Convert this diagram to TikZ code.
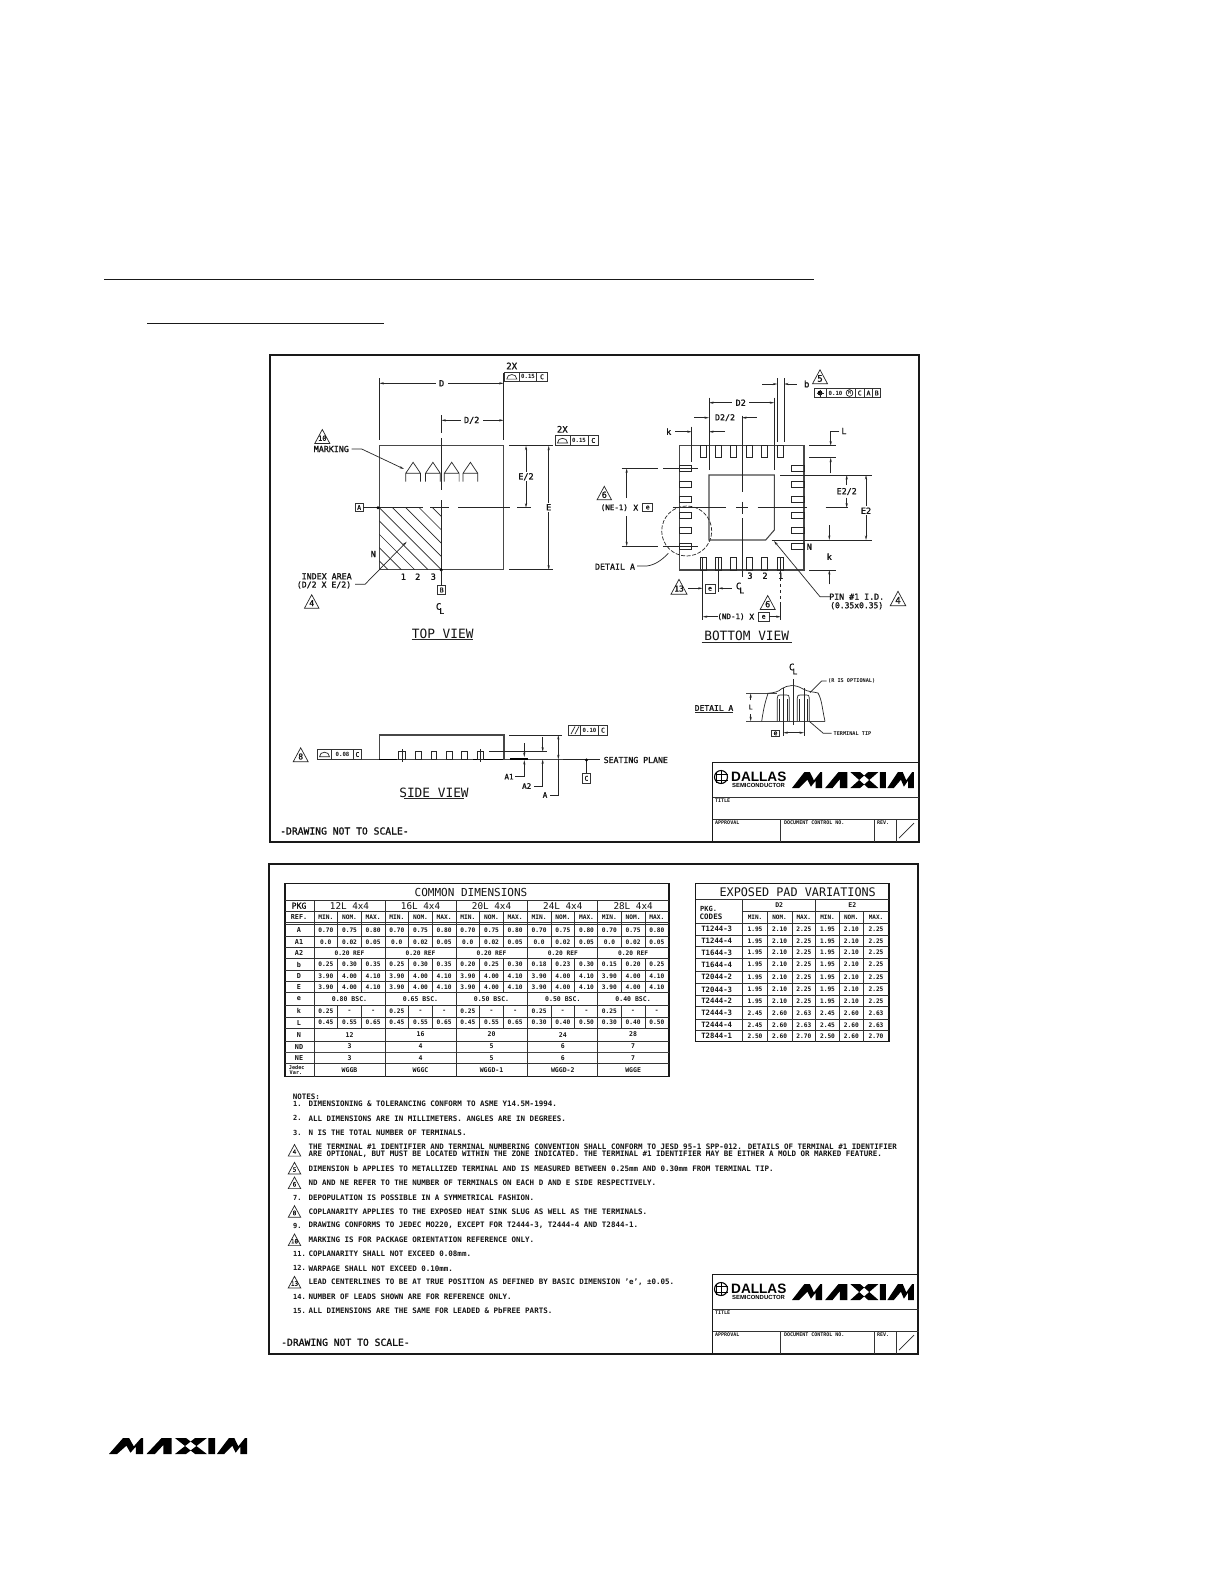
\documentclass[tikz,border=0pt]{standalone}
\usepackage{fontspec}
\setmainfont{DejaVu Sans Mono}
\newfontfamily\medf[FakeBold=1.3]{DejaVu Sans Mono}
\newfontfamily\logofont{Liberation Sans}
\usetikzlibrary{arrows.meta}
\newcounter{tn}
\tikzset{
  >={Stealth[length=4.5pt,width=2.2pt]},
  txt/.style={inner sep=0pt,text=black!92},
  gapt/.style={inner ysep=1.2pt,inner xsep=3.5pt,fill=white,text=black!92},
  pk/.style={draw=black!72,line width=1.1pt},
  ln/.style={draw=black!85,line width=.7pt},
  tb/.style={draw=black!80,line width=.9pt},
  frm/.style={draw=black!90,line width=1.4pt},
  heavy/.style={draw=black,line width=1.6pt}
}
% text: [anchor]{x}{y}{size}{text}
\newcommand\Tx[5][center]{\stepcounter{tn}\node[txt,anchor=#1,font=\fontsize{#4}{#4}\medf] (t\arabic{tn}) at ({#2},{#3}) {#5};}
\newcommand\Lg[5][center]{\stepcounter{tn}\node[txt,anchor=#1,font=\fontsize{#4}{#4}\selectfont] (t\arabic{tn}) at ({#2},{#3}) {#5};}
\newcommand\Bx[5][center]{\stepcounter{tn}\node[txt,anchor=#1,font=\fontsize{#4}{#4}\selectfont\bfseries] (t\arabic{tn}) at ({#2},{#3}) {#5};}
\newcommand\Wx[4]{\stepcounter{tn}\node[gapt,font=\fontsize{#3}{#3}\medf] (t\arabic{tn}) at ({#1},{#2}) {#4};}
% triangle: {cx}{cy}{w}{labelsize}{label}
\newcommand\Tri[5]{\draw[ln] ({#1-#3/2},{#2+#3*.45}) -- (#1,{#2-#3*.48}) -- ({#1+#3/2},{#2+#3*.45}) -- cycle; \Tx{#1}{#2+#3*.1}{#4}{#5}}
% feature frame box
\newcommand\FBx[5]{\draw[tb] (#1,#2) rectangle (#3,#4); \Tx{(#1+#3)/2}{(#2+#4)/2}{6.5}{#5}}
\newcommand\FlatS[2]{\draw[ln] (#1-5,#2+2.5) .. controls (#1-5,#2-3.6) and (#1+5,#2-3.6) .. (#1+5,#2+2.5) -- cycle;}
\newcommand\CLn[2]{\Tx{#1}{#2}{9}{C}\Tx{#1+3.2}{#2+4.5}{8}{L}}
\newcommand\caA[1]{\draw[ln] (#1,481.7) -- (#1,473.3) -- (#1+7.4,462.3) -- (#1+14.8,473.3) -- (#1+14.8,481.7) (#1,473.3) -- (#1+14.8,473.3);}
% Maxim logo {x}{y}{xscale}{yscale}
\newcommand\maximlogo[4]{\begin{scope}[shift={(#1,#2)},x=#3pt,y=-#4pt]
\fill[black] (0,50)--(42,0)--(60,0)--(74,26)--(96,0)--(102,0)--(102,50)--(80,50)--(80,27)--(64,46)--(52,24)--(24,50)--cycle
 (112,50)--(157,0)--(187,0)--(187,50)--(162,50)--(162,22)--(137,50)--cycle
 (197,0)--(230,0)--(292,50)--(257,50)--cycle (197,50)--(230,50)--(292,0)--(257,0)--cycle
 (297,0)--(317,0)--(317,50)--(297,50)--cycle
 (322,50)--(358,0)--(374,0)--(386,26)--(406,0)--(412,0)--(412,50)--(392,50)--(392,27)--(378,46)--(368,24)--(344,50)--cycle;
\end{scope}}
\newcommand\titleblock{%
\draw[frm] (712.7,842) -- (712.7,762.7) -- (919,762.7);
\draw[tb] (712.7,797.7) -- (919,797.7) (712.7,819) -- (919,819) (780,819) -- (780,842) (874,819) -- (874,842) (896,819) -- (896,842);
\draw[ln] (899,838) -- (914,823);
\draw[black,line width=1.1pt] (721,777) circle[radius=6.5pt];
\draw[black,line width=.8pt] (721,770.5) -- (721,783.5) (716,771.5) -- (716,782.5) (716,774) -- (727.5,774) (716,780) -- (727.5,780);
\stepcounter{tn}\node[txt,anchor=west,font=\fontsize{13.6}{13.6}\logofont\bfseries,text=black] (t\arabic{tn}) at (731,776.5) {DALLAS};
\stepcounter{tn}\node[txt,anchor=west,font=\fontsize{5.9}{5.9}\logofont\bfseries,text=black] (t\arabic{tn}) at (732,785.3) {SEMICONDUCTOR};
\maximlogo{792}{772}{.296}{.32}
\Bx[west]{715}{801}{5}{TITLE}
\Bx[west]{715}{823}{5}{APPROVAL}
\Bx[west]{784}{823}{5}{DOCUMENT CONTROL NO.}
\Bx[west]{877}{823}{5}{REV.}
}
% table helpers
\newcommand\Trip[5]{\Bx{#2+11.8}{#1}{6.2}{#3}\Bx{#2+35.5}{#1}{6.2}{#4}\Bx{#2+59.2}{#1}{6.2}{#5}}
\newcommand\AllG[4]{\foreach \g in {314,385,456,527.3,597.6} {\Trip{#1}{\g}{#2}{#3}{#4}}}
\newcommand\PadR[5]{\Bx{716.7}{#1}{7.3}{#2}\Bx{755}{#1}{6.2}{#3}\Bx{779.6}{#1}{6.2}{#4}\Bx{803.8}{#1}{6.2}{#5}\Bx{827.5}{#1}{6.2}{#3}\Bx{851.3}{#1}{6.2}{#4}\Bx{876}{#1}{6.2}{#5}}
\newcommand\Nt[3]{\Bx[west]{293}{#1}{7}{#2}\Bx[west]{308.3}{#1}{7.5}{#3}}
\newcommand\Nd[3]{\Tri{294.5}{#1}{12.5}{6}{#2}\Bx[west]{308.3}{#1}{7.5}{#3}}
\begin{document}
\begin{tikzpicture}[x=1pt,y=-1pt]
\useasboundingbox (0,0) rectangle (1225,1585);
\fill[white] (0,0) rectangle (1225,1585);
% page rules
\draw[black!90,line width=1.3pt] (104,279.3) -- (814,279.3);
\draw[black!90,line width=1.3pt] (147.3,323.3) -- (384,323.3);
\maximlogo{109}{1438}{.335}{.32}
% frames
\draw[frm] (270,355) rectangle (919,842);
\draw[frm] (269,864) rectangle (918,1354);
\titleblock
\begin{scope}[shift={(0,512)}]\titleblock\end{scope}
% ===== TOP VIEW =====
\draw[pk] (379.3,445.7) rectangle (503.7,569.7);
\begin{scope}
\clip (379.3,507.7) rectangle (441.3,569.7);
\foreach \k in {-4,...,4} \draw[ln] ({379.3+13.3*\k},507.7) -- ({441.3+13.3*\k},569.7);
\end{scope}
\draw[ln] (379.3,378) -- (379.3,440) (503.7,373) -- (503.7,440);
\draw[ln,<->] (379.3,383.3) -- (503.7,383.3);
\Wx{441.7}{383.3}{8.5}{D}
\Tx{511.7}{366}{9}{2X}
\draw[tb] (504.3,372.3) rectangle (547.3,381) (519.3,372.3) -- (519.3,381) (536.7,372.3) -- (536.7,381);
\FlatS{511.8}{376.6}\Bx{528}{376.8}{5.7}{0.15}\Tx{542}{376.8}{6.5}{C}
\draw[ln,<->] (441.3,420.3) -- (503.7,420.3);
\Wx{471.7}{420.3}{8.5}{D/2}
\draw[ln] (441.3,415) -- (441.3,433) (441.3,438) -- (441.3,490) (441.3,500) -- (441.3,569.7);
\draw[ln] (379.3,507.7) -- (423,507.7) (430,507.7) -- (449,507.7) (458,507.7) -- (510,507.7) (517,507.7) -- (531,507.7);
\caA{405.7}\caA{425.5}\caA{444.3}\caA{463}
\FBx{355}{503.3}{363.3}{511.7}{A}
\draw[ln] (363.3,507.7) -- (379.3,507.7);
\fill[black] (378,507.7) circle[radius=1.6pt] (441.3,570) circle[radius=1.6pt];
\FBx{437.7}{585.7}{445.7}{594.3}{B}
\draw[ln] (441.3,570) -- (441.3,585.7);
\CLn{438.6}{606.5}
\draw[ln,->] (355,584.3) -- (365,584.3) -- (379.3,569.7) -- (406.7,541.7);
\Tx{326.7}{576.3}{8.3}{INDEX AREA}
\Tx{324}{585}{8.2}{(D/2 X E/2)}
\Tri{311.7}{601.7}{14.5}{8}{4}
\Tx{373.3}{554}{8.5}{N}
\Tx{403.3}{576.7}{8.5}{1}\Tx{417.7}{576.7}{8.5}{2}\Tx{433.3}{576.7}{8.5}{3}
\Tri{322.3}{436.7}{15}{7}{10}
\Tx{331.3}{449}{8.3}{MARKING}
\draw[ln,->] (351.7,449) -- (361.7,449) -- (404,469);
\Lg{442.7}{633.5}{12.8}{TOP VIEW}
\draw[ln] (411.7,639.3) -- (473.3,639.3);
\draw[ln] (509.3,445.7) -- (553.3,445.7) (509.3,569.7) -- (553.3,569.7);
\draw[ln,<->] (526,445.7) -- (526,507.7);
\Wx{526}{476.7}{8.5}{E/2}
\draw[ln,<->] (548.7,445.7) -- (548.7,569.7);
\Wx{548.7}{507.3}{8.5}{E}
\Tx{562.3}{429.3}{9}{2X}
\draw[tb] (555,435.7) rectangle (598.3,445) (570,435.7) -- (570,445) (588.3,435.7) -- (588.3,445);
\FlatS{562.5}{440.4}\Bx{579}{440.5}{5.7}{0.15}\Tx{593.3}{440.5}{6.5}{C}
% ===== BOTTOM VIEW =====
\draw[pk] (679.3,445.7) rectangle (804,570);
\draw[pk] (709,475) -- (774.3,475) -- (774.3,530) -- (765.7,540) -- (709,540) -- cycle;
\foreach \x in {700,715.3,730.7,746,761.7,777.3} {\draw[ln] (\x,445.7) rectangle (\x+6,457.7) (\x,557.3) rectangle (\x+6,570);}
\foreach \y in {465.7,481,496.7,512.3,527.7,543.3} {\draw[ln] (679.3,\y) rectangle (691.7,\y+6) (791.7,\y) rectangle (804,\y+6);}
\draw[ln] (672.7,507.7) -- (726,507.7) (736,507.7) -- (748,507.7) (757.7,507.7) -- (806.7,507.7) (825.7,507.7) -- (848.3,507.7);
\draw[ln] (742,415.7) -- (742,491.7) (742,501.7) -- (742,513.7) (742,518.3) -- (742,576.7);
\draw[ln] (691.7,426.7) -- (691.7,461.7) (709,397.7) -- (709,470) (774.3,397.7) -- (774.3,470);
\draw[ln,<->] (709,402.7) -- (774.3,402.7);
\Wx{740.7}{402.7}{8.5}{D2}
\draw[ln,->] (694,417.7) -- (709,417.7);
\draw[ln,->] (756.7,417.7) -- (742,417.7);
\Tx{725}{417.7}{8.3}{D2/2}
\Tx{668.7}{431.7}{8.5}{k}
\draw[ln,->] (675,431.7) -- (691.7,431.7);
\draw[ln,->] (725,431.7) -- (709,431.7);
\draw[ln] (777.3,378.3) -- (777.3,441.7) (784,378.3) -- (784,441.7);
\draw[ln,->] (762.3,384) -- (777.3,384);
\draw[ln,->] (796.7,384) -- (784,384);
\Tx{806.7}{384}{9}{b}
\Tri{820}{377}{15}{9}{5}
\draw[tb] (814,388.3) rectangle (880.7,397.7) (826,388.3) -- (826,397.7) (855,388.3) -- (855,397.7) (864.3,388.3) -- (864.3,397.7) (872.7,388.3) -- (872.7,397.7);
\fill[black] (820,393) circle[radius=2.4pt];
\draw[ln] (816.5,393) -- (823.5,393) (820,389.5) -- (820,396.5);
\Bx{835.5}{393}{5.7}{0.10}
\draw[black,line width=.6pt] (849.5,393) circle[radius=3.4pt];
\Bx{849.5}{393}{4.8}{M}
\Tx{859.7}{393}{6.5}{C}\Tx{868.5}{393}{6.5}{A}\Tx{876.7}{393}{6.5}{B}
\draw[ln,->] (839.3,431) -- (830.7,431) -- (830.7,445.7);
\Tx{844}{431}{8.5}{L}
\draw[ln] (809.3,445.7) -- (836,445.7) (809.3,457.7) -- (836,457.7) (780,475) -- (871.7,475) (771.7,540) -- (871.7,540) (809.3,570) -- (836,570);
\draw[ln,->] (830.7,473.3) -- (830.7,457.7);
\draw[ln,->] (846.7,485) -- (846.7,475);
\draw[ln,->] (846.7,497.7) -- (846.7,507.7);
\Tx{846.7}{491.5}{8.3}{E2/2}
\draw[ln,<->] (866,475) -- (866,540);
\Wx{866}{510.7}{8.5}{E2}
\draw[ln,->] (829.3,525) -- (829.3,540);
\Tx{829.3}{556.7}{8.5}{k}
\draw[ln,->] (829.3,584.3) -- (829.3,570);
\draw[ln] (621.7,468.3) -- (658.3,468.3) (663.3,468.3) -- (698.3,468.3) (621.7,546.3) -- (658.3,546.3) (663.3,546.3) -- (698.3,546.3);
\draw[ln,->] (626.7,498) -- (626.7,468.3);
\draw[ln,->] (626.7,516) -- (626.7,546.3);
\Tri{604.3}{493.3}{14.5}{8.5}{6}
\Tx{614.3}{507.7}{7.5}{(NE-1)}\Tx{635.7}{507.7}{8}{X}
\FBx{642.7}{503.3}{652.7}{511.7}{e}
\draw[ln,dashed,dash pattern=on 4pt off 1.6pt] (686.7,531) circle[radius=25pt];
\Tx{615}{566.7}{8.3}{DETAIL A}
\draw[ln] (637,566) -- (646.7,566) .. controls (655,565) and (662,560) .. (668.3,553.3);
\draw[ln,<-] (774,541) -- (820,596.7) -- (830,596.7);
\Tx{856.7}{596.7}{8.3}{PIN \#1 I.D.}
\Tx{856.7}{605.7}{8}{(0.35x0.35)}
\Tri{898}{598.7}{15.5}{9}{4}
\Tx{809.3}{546.7}{8.5}{N}
\Tx{750}{575.7}{8.5}{3}\Tx{765}{575.7}{8.5}{2}\Tx{780.7}{575.7}{8.5}{1}
\draw[ln] (702.7,557) -- (702.7,620) (718.3,557) -- (718.3,592);
\draw[ln] (780.7,557) -- (780.7,578) (780.7,602) -- (780.7,620);
\draw[ln,dashed] (780.7,578) -- (780.7,602);
\Tri{679}{587}{16}{8}{13}
\draw[ln,->] (688.3,588.3) -- (702.7,588.3);
\FBx{705}{584.3}{715}{593.3}{e}
\draw[ln,->] (731.7,588.3) -- (718.3,588.3);
\CLn{738.6}{586}
\draw[ln,->] (718,616.7) -- (702.7,616.7);
\Tx{731}{616.7}{7.5}{(ND-1)}\Tx{751.7}{616.7}{8}{X}
\FBx{758.3}{612.7}{769}{621}{e}
\draw[ln,->] (769,616.7) -- (780.7,616.7);
\Tri{767.7}{602.7}{15}{8.5}{6}
\Lg{746.7}{636}{12.8}{BOTTOM VIEW}
\draw[ln] (701.7,642) -- (791.7,642);
% ===== SIDE VIEW =====
\draw[pk] (379.3,759.3) -- (379.3,735) -- (504,735) -- (504,759.3);
\draw[pk] (361.7,759.3) -- (563.3,759.3);
\draw[ln] (563.3,759.3) -- (600,759.3);
\draw[heavy] (379.3,759.3) -- (396.7,759.3) (473,759.3) -- (503.3,759.3) (510,758.7) -- (528.3,758.7);
\foreach \x/\w in {398.7/6.6,415/6.7,431/5.7,446.7/6,461.7/5.6,477.3/6} {\draw[ln] (\x,751.7) rectangle (\x+\w,759.3);}
\draw[ln] (402,749.3) -- (402,761.5) (480.3,749.3) -- (480.3,761.5);
\draw[ln] (489.3,751.7) -- (547.3,751.7) (509.3,735) -- (561.7,735);
\draw[tb] (568.3,725) rectangle (607.7,735.3) (580.7,725) -- (580.7,735.3) (598.3,725) -- (598.3,735.3);
\draw[ln] (571,734) -- (575,726.5) (575,734) -- (579,726.5);
\Bx{589.5}{730.2}{5.7}{0.10}\Tx{603}{730.2}{6.5}{C}
\draw[ln,<->] (558.3,735) -- (558.3,759.3);
\draw[ln] (558.3,759.3) -- (558.3,795) -- (550,795);
\Tx{545}{795}{7.5}{A}
\draw[ln,->] (542.7,737.3) -- (542.7,751.7);
\draw[ln,->] (534,786) -- (542.7,786) -- (542.7,759.3);
\Tx{526.7}{786}{7.5}{A2}
\draw[ln,->] (524.3,743) -- (524.3,757);
\draw[ln,->] (515,776.7) -- (524.3,776.7) -- (524.3,760);
\Tx{509}{776.7}{7.5}{A1}
\Tx[west]{603.5}{760}{8.2}{SEATING PLANE}
\FBx{582.3}{773.3}{590.7}{783.3}{C}
\draw[ln] (586.5,759.3) -- (586.5,773.3);
\fill[black] (586.5,760) circle[radius=1.6pt];
\draw[tb] (317.3,749.3) rectangle (361.7,759.3) (331.7,749.3) -- (331.7,759.3) (353.3,749.3) -- (353.3,759.3);
\FlatS{324.5}{754.3}\Bx{342.5}{754.5}{5.7}{0.08}\Tx{357.5}{754.5}{6.5}{C}
\Tri{300.7}{755}{15}{8}{8}
\Lg{434}{793}{12.8}{SIDE VIEW}
\draw[ln] (404.3,798.6) -- (464,798.6);
\Tx[west]{280}{831}{9.7}{-DRAWING NOT TO SCALE-}
% ===== DETAIL A =====
\Tx{714}{708}{8}{DETAIL A}
\draw[ln] (695,712) -- (733.3,712);
\draw[pk] (746,693.3) -- (776.7,693.3) (746,721.3) -- (825,721.3);
\draw[ln,->] (750.7,700) -- (750.7,693.3);
\draw[ln,->] (750.7,714) -- (750.7,721.3);
\Tx{750.7}{707}{6.5}{L}
\draw[ln] (761.7,721.3) .. controls (764,705) and (766,700) .. (768,693.3) .. controls (775,692.5) and (778,692) .. (782,688.5) .. controls (788,685) and (795,684) .. (803,689) .. controls (808,692) and (815,692) .. (818,693) .. controls (822,700) and (822,708) .. (825,721.3);
\foreach \x in {777.3,797.3} {\draw[ln] (\x,721.3) -- (\x,698) .. controls (\x,695) and (\x+1,695) .. (\x+3,695) -- (\x+9,695) .. controls (\x+11,695) and (\x+12,695) .. (\x+12,698) -- (\x+12,721.3);
\draw[ln] (\x+2,721.3) -- (\x+2,699) (\x+10,721.3) -- (\x+10,699);}
\draw[ln] (793.3,679.3) -- (793.3,725) (783.3,688.3) -- (783.3,736) (804,688.3) -- (804,736);
\CLn{791.7}{667}
\Bx[west]{828}{681}{5.2}{(R IS OPTIONAL)}
\draw[ln] (826.7,681) -- (821.7,681) -- (810,692.7);
\Bx[west]{833.5}{733.3}{5.2}{TERMINAL TIP}
\draw[ln] (831.7,733.3) -- (823.3,733.3) -- (809.3,721.3);
\FBx{771.7}{730}{779.3}{736.7}{e}
\draw[ln,<->] (783.3,732.7) -- (804,732.7);
% ===== COMMON DIMENSIONS =====
\draw[frm,line width=1.1pt] (285,883.3) rectangle (669,1076.7);
\foreach \y in {900,911.3,922.7,924.3,936.3,947.7,958.3,970.7,981.3,992.3,1005.3,1017,1028.3,1041,1052.3,1063.3} {\draw[tb] (285,\y) -- (669,\y);}
\draw[pk,line width=1.4pt] (285,1052.3) -- (669,1052.3);
\draw[tb] (314,900) -- (314,1076.7);
\foreach \g in {385,456,527.3,597.6} {\draw[tb] (\g,900) -- (\g,1076.7);}
\foreach \g in {314,385,456,527.3,597.6} {\foreach \dd in {23.7,47.4} {\draw[tb] (\g+\dd,911.3) -- (\g+\dd,947.7) (\g+\dd,958.3) -- (\g+\dd,992.3) (\g+\dd,1005.3) -- (\g+\dd,1028.3);}}
\Lg{471}{892.3}{11}{COMMON DIMENSIONS}
\Tx{299}{905.7}{8.2}{PKG}
\Bx{299}{917}{6.8}{REF.}
\foreach \g/\s in {314/12L,385/16L,456/20L,527.3/24L,597.6/28L} {\Lg{\g+35.5}{905.7}{9.3}{\s{} 4x4}}
\foreach \g in {314,385,456,527.3,597.6} {\Trip{917}{\g}{MIN.}{NOM.}{MAX.}}
\foreach \lb/\y in {A/930.3,A1/942,A2/953,b/964.5,D/976,E/986.8,e/998.8,k/1011,L/1022.6,N/1034.6,ND/1046.6,NE/1057.8} {\Bx{299}{\y}{6.8}{\lb}}
\Bx{296.7}{1067.5}{5.2}{Jedec}\Bx{296}{1072.8}{5.2}{Var.}
\AllG{930.3}{0.70}{0.75}{0.80}
\AllG{942}{0.0}{0.02}{0.05}
\foreach \g in {314,385,456,527.3,597.6} {\Bx{\g+35.5}{953}{6.2}{0.20 REF}}
\Trip{964.5}{314}{0.25}{0.30}{0.35}\Trip{964.5}{385}{0.25}{0.30}{0.35}\Trip{964.5}{456}{0.20}{0.25}{0.30}\Trip{964.5}{527.3}{0.18}{0.23}{0.30}\Trip{964.5}{597.6}{0.15}{0.20}{0.25}
\AllG{976}{3.90}{4.00}{4.10}
\AllG{986.8}{3.90}{4.00}{4.10}
\foreach \g/\s in {314/0.80,385/0.65,456/0.50,527.3/0.50,597.6/0.40} {\Bx{\g+35.5}{998.8}{6.5}{\s{} BSC.}}
\AllG{1011}{0.25}{-}{-}
\Trip{1022.6}{314}{0.45}{0.55}{0.65}\Trip{1022.6}{385}{0.45}{0.55}{0.65}\Trip{1022.6}{456}{0.45}{0.55}{0.65}\Trip{1022.6}{527.3}{0.30}{0.40}{0.50}\Trip{1022.6}{597.6}{0.30}{0.40}{0.50}
\foreach \g/\nn/\pp/\qq/\vv in {314/12/3/3/WGGB,385/16/4/4/WGGC,456/20/5/5/WGGD-1,527.3/24/6/6/WGGD-2,597.6/28/7/7/WGGE} {\Bx{\g+35.5}{1034.6}{6.5}{\nn}\Bx{\g+35.5}{1046.6}{6.5}{\pp}\Bx{\g+35.5}{1057.8}{6.5}{\qq}\Bx{\g+35.5}{1070}{6.5}{\vv}}
% ===== EXPOSED PAD =====
\draw[frm,line width=1.1pt] (695.7,883.3) rectangle (889,1041.7);
\draw[tb] (695.7,899.3) -- (889,899.3) (742.7,911.7) -- (889,911.7);
\foreach \y in {923.3,935,946.7,958.3,971,983.3,995.7,1006.7,1019,1030.7} {\draw[tb] (695.7,\y) -- (889,\y);}
\draw[tb] (742.7,899.3) -- (742.7,1041.7) (815.7,899.3) -- (815.7,1041.7);
\foreach \x in {767.3,792,839.3,863.3} {\draw[tb] (\x,911.7) -- (\x,1041.7);}
\Lg{797.7}{891.7}{11.8}{EXPOSED PAD VARIATIONS}
\Bx[west]{700}{909}{7}{PKG.}
\Bx[west]{699.5}{916.7}{7.5}{CODES}
\Bx{779.2}{905.5}{6.5}{D2}\Bx{852.4}{905.5}{6.5}{E2}
\foreach \x/\s in {755/MIN.,779.6/NOM.,803.8/MAX.,827.5/MIN.,851.3/NOM.,876/MAX.} {\Bx{\x}{917.5}{6}{\s}}
\PadR{929.2}{T1244-3}{1.95}{2.10}{2.25}
\PadR{940.8}{T1244-4}{1.95}{2.10}{2.25}
\PadR{952.5}{T1644-3}{1.95}{2.10}{2.25}
\PadR{964.6}{T1644-4}{1.95}{2.10}{2.25}
\PadR{977.2}{T2044-2}{1.95}{2.10}{2.25}
\PadR{989.5}{T2044-3}{1.95}{2.10}{2.25}
\PadR{1001.2}{T2444-2}{1.95}{2.10}{2.25}
\PadR{1012.8}{T2444-3}{2.45}{2.60}{2.63}
\PadR{1024.8}{T2444-4}{2.45}{2.60}{2.63}
\PadR{1036.2}{T2844-1}{2.50}{2.60}{2.70}
% ===== NOTES =====
\Bx[west]{292.7}{1096.7}{7.5}{NOTES:}
\Nt{1104}{1.}{DIMENSIONING \& TOLERANCING CONFORM TO ASME Y14.5M-1994.}
\Nt{1118.3}{2.}{ALL DIMENSIONS ARE IN MILLIMETERS. ANGLES ARE IN DEGREES.}
\Nt{1132.7}{3.}{N IS THE TOTAL NUMBER OF TERMINALS.}
\Tri{294.5}{1150.5}{12.5}{6}{4}
\Bx[west]{308.3}{1147}{7.5}{THE TERMINAL \#1 IDENTIFIER AND TERMINAL NUMBERING CONVENTION SHALL CONFORM TO JESD 95-1 SPP-012. DETAILS OF TERMINAL \#1 IDENTIFIER}
\Bx[west]{308.3}{1154.3}{7.5}{ARE OPTIONAL, BUT MUST BE LOCATED WITHIN THE ZONE INDICATED. THE TERMINAL \#1 IDENTIFIER MAY BE EITHER A MOLD OR MARKED FEATURE.}
\Nd{1168.3}{5}{DIMENSION b APPLIES TO METALLIZED TERMINAL AND IS MEASURED BETWEEN 0.25mm AND 0.30mm FROM TERMINAL TIP.}
\Nd{1183}{6}{ND AND NE REFER TO THE NUMBER OF TERMINALS ON EACH D AND E SIDE RESPECTIVELY.}
\Nt{1197.7}{7.}{DEPOPULATION IS POSSIBLE IN A SYMMETRICAL FASHION.}
\Nd{1211.7}{8}{COPLANARITY APPLIES TO THE EXPOSED HEAT SINK SLUG AS WELL AS THE TERMINALS.}
\Nt{1225.7}{9.}{DRAWING CONFORMS TO JEDEC MO220, EXCEPT FOR T2444-3, T2444-4 AND T2844-1.}
\Nd{1240}{10}{MARKING IS FOR PACKAGE ORIENTATION REFERENCE ONLY.}
\Nt{1254}{11.}{COPLANARITY SHALL NOT EXCEED 0.08mm.}
\Nt{1268.3}{12.}{WARPAGE SHALL NOT EXCEED 0.10mm.}
\Nd{1282.3}{13}{LEAD CENTERLINES TO BE AT TRUE POSITION AS DEFINED BY BASIC DIMENSION 'e', ±0.05.}
\Nt{1296.7}{14.}{NUMBER OF LEADS SHOWN ARE FOR REFERENCE ONLY.}
\Nt{1311}{15.}{ALL DIMENSIONS ARE THE SAME FOR LEADED \& PbFREE PARTS.}
\Tx[west]{281}{1342.3}{9.7}{-DRAWING NOT TO SCALE-}
\end{tikzpicture}
\end{document}
